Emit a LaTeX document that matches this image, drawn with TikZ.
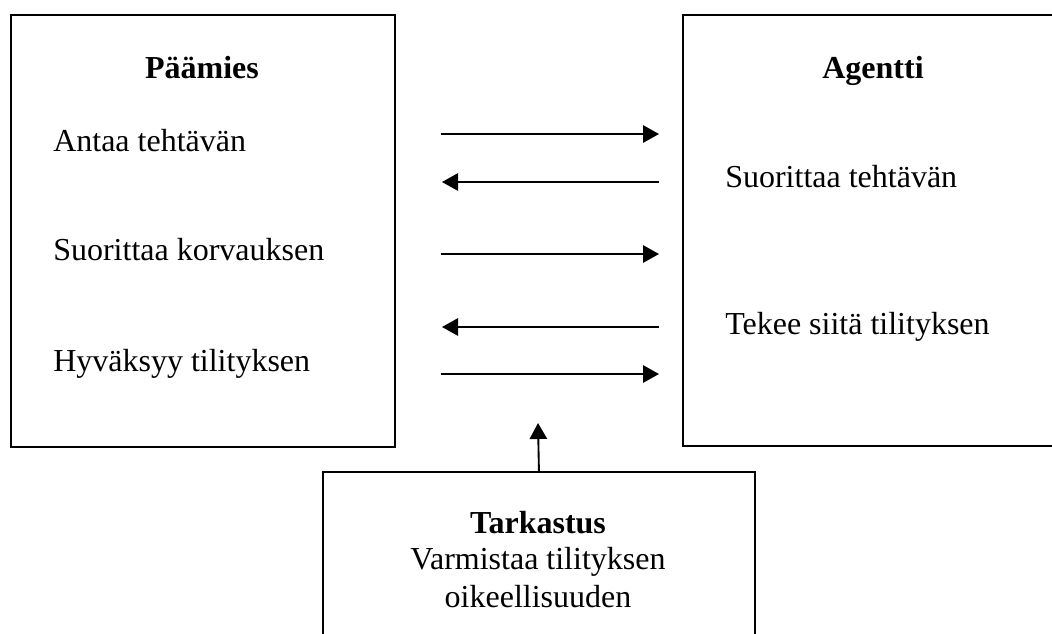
\documentclass[tikz,border=0pt]{standalone}
\usepackage{fontspec}
\setmainfont{Liberation Serif}
\usetikzlibrary{arrows.meta}
\begin{document}
\begin{tikzpicture}[x=0.75pt,y=-0.75pt,
  box/.style={draw,line width=1.4pt,inner sep=0pt},
  lbl/.style={anchor=base west,inner sep=0pt,font=\fontsize{24}{28}\selectfont},
  ctr/.style={anchor=base,inner sep=0pt,font=\fontsize{24}{28}\selectfont},
  ttl/.style={anchor=base,inner sep=0pt,font=\fontsize{24}{28}\selectfont\bfseries},
  flow/.style={line width=1.4pt,-{Triangle[length=12pt,width=13pt]}}]
\useasboundingbox (0,0) rectangle (1052,633);
\clip (0,0) rectangle (1052,633);
% boxes
\node[box,anchor=north west,minimum width=288pt,minimum height=324pt] (pm) at (10,14) {};
\node[box,anchor=north west,minimum width=286.5pt,minimum height=323.5pt] (ag) at (682,14) {};
\node[box,anchor=north west,minimum width=324pt,minimum height=150pt] (tk) at (322,471) {};
% texts left
\node[ttl] (pmt) at (202,78) {Päämies};
\node[lbl] (l1) at (53,151) {Antaa tehtävän};
\node[lbl] (l2) at (53,260) {Suorittaa korvauksen};
\node[lbl] (l3) at (53,371) {Hyväksyy tilityksen};
% texts right
\node[ttl] (agt) at (873,78) {Agentti};
\node[lbl] (r1) at (725,187) {Suorittaa tehtävän};
\node[lbl] (r2) at (725,334) {Tekee siitä tilityksen};
% texts bottom
\node[ttl] (tkt) at (538,533) {Tarkastus};
\node[ctr] (b1) at (538,569) {Varmistaa tilityksen};
\node[ctr] (b2) at (538,607) {oikeellisuuden};
% arrow end points
\coordinate (a1l) at (441,134); \coordinate (a1r) at (659,134);
\coordinate (a2l) at (442,182); \coordinate (a2r) at (659,182);
\coordinate (a3l) at (441,254); \coordinate (a3r) at (659,254);
\coordinate (a4l) at (442,327); \coordinate (a4r) at (659,327);
\coordinate (a5l) at (441,374); \coordinate (a5r) at (659,374);
\coordinate (up) at (538,423);
\draw[flow] (a1l) -- (a1r);
\draw[flow] (a2r) -- (a2l);
\draw[flow] (a3l) -- (a3r);
\draw[flow] (a4r) -- (a4l);
\draw[flow] (a5l) -- (a5r);
\draw[flow] (tk.north) -- (up);
\end{tikzpicture}
\end{document}
